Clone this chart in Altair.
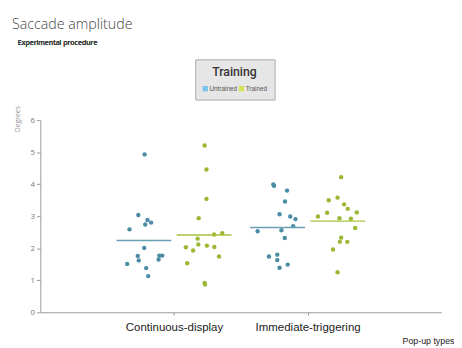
import altair as alt
import pandas as pd

categories = ["Continuous-display", "Immediate-triggering"]
groups = ["Untrained", "Trained"]

# degrees per participant
cd_untrained = [4.93, 3.04, 2.88, 2.80, 2.74, 2.59, 2.01, 1.76, 1.62, 1.77, 1.77, 1.65, 1.51, 1.38, 1.13]
cd_trained = [5.21, 4.46, 3.54, 2.94, 2.47, 2.43, 2.30, 2.12, 2.08, 2.04, 2.03, 1.93, 1.74, 1.53, 0.92, 0.87]
it_untrained = [3.99, 3.95, 3.80, 3.46, 3.06, 2.99, 2.91, 2.69, 2.56, 2.53, 2.32, 1.74, 1.80, 1.63, 1.49, 1.39]
it_trained = [4.22, 3.58, 3.50, 3.37, 3.23, 3.11, 3.12, 2.99, 2.94, 2.92, 2.63, 2.33, 2.20, 2.20, 1.96, 1.25]

# horizontal jitter (fraction of a category step)
cd_untrained_jit = [0.005, -0.042, 0.027, 0.054, 0.010, -0.108, 0.002, -0.046, -0.039, 0.115, 0.137, 0.110, -0.125, 0.017, 0.032]
cd_trained_jit = [0.004, 0.018, 0.018, -0.040, 0.136, 0.075, -0.048, -0.043, 0.021, 0.077, -0.136, -0.082, 0.112, -0.126, 0.004, 0.007]
it_untrained_jit = [-0.032, -0.026, 0.071, 0.056, 0.015, 0.095, 0.134, 0.117, 0.029, -0.149, 0.054, -0.064, -0.002, -0.002, 0.076, 0.015]
it_trained_jit = [0.026, -0.001, -0.067, 0.048, 0.075, -0.079, 0.143, -0.148, 0.013, 0.099, 0.131, 0.026, 0.016, 0.072, -0.035, -0.001]

y_ticks = [0, 1, 2, 3, 4, 5, 6]

series = [
    (0, 0, cd_untrained, cd_untrained_jit),
    (0, 1, cd_trained, cd_trained_jit),
    (1, 0, it_untrained, it_untrained_jit),
    (1, 1, it_trained, it_trained_jit),
]

group_shift = [-0.225, 0.225]
half_len = 0.205

rows = []
mean_rows = []
for ci, gi, vals, jit in series:
    center = ci + 1 + group_shift[gi]
    for v, j in zip(vals, jit):
        rows.append({"category": categories[ci], "group": groups[gi], "pos": center + j, "degrees": v})
    mean_rows.append({
        "category": categories[ci], "group": groups[gi],
        "x1": center - half_len, "x2": center + half_len,
        "mean": sum(vals) / len(vals),
    })

pts = pd.DataFrame(rows)
means = pd.DataFrame(mean_rows)

label_expr = f"datum.value == 1 ? '{categories[0]}' : '{categories[1]}'"

x_axis = alt.Axis(
    values=[1, 2], labelExpr=label_expr, grid=False,
    labelFont="Liberation Sans", labelFontSize=11.7, labelColor="#222",
    tickSize=3, tickColor="#999", domainColor="#999", labelPadding=7,
    title="Pop-up types", titleFont="Liberation Sans", titleFontSize=9,
    titleFontWeight="normal", titleColor="#222",
    titleX=369, titleY=32, titleAlign="left", titleBaseline="alphabetic",
)
y_axis = alt.Axis(
    values=y_ticks, grid=False, labelOverlap=False,
    labelFont="Open Sans", labelFontSize=8, labelColor="#777",
    tickSize=4, tickColor="#999", domainColor="#999", labelPadding=2,
    title="Degrees", titleFont="Open Sans", titleFontSize=7,
    titleFontWeight="normal", titleColor="#999", titleAngle=270,
    titleAlign="center", titleBaseline="middle", titleX=-23, titleY=-1.5,
)

xs = alt.Scale(domain=[0, 3], nice=False, zero=False)
ys = alt.Scale(domain=[0, 6], nice=False)

dark = alt.Scale(domain=groups, range=["#4a8ca4", "#9ab833"])
line_c = alt.Scale(domain=groups, range=["#6aa0b6", "#a8c23e"])
legend_c = alt.Scale(domain=groups, range=["#4fb3ee", "#c6e41a"])

points = alt.Chart(pts).mark_circle(size=20, opacity=1).encode(
    x=alt.X("pos:Q", scale=xs, axis=x_axis),
    y=alt.Y("degrees:Q", scale=ys, axis=y_axis),
    color=alt.Color("group:N", scale=dark, legend=None),
)

rules = alt.Chart(means).mark_rule(strokeWidth=1.5).encode(
    x=alt.X("x1:Q", scale=xs, axis=x_axis),
    x2="x2:Q",
    y=alt.Y("mean:Q", scale=ys, axis=y_axis),
    color=alt.Color("group:N", scale=line_c, legend=None),
)

legend_layer = alt.Chart(means).mark_square(clip=True).encode(
    x=alt.value(-100),
    y=alt.value(-100),
    color=alt.Color(
        "group:N", scale=legend_c,
        legend=alt.Legend(
            title="Training", orient="none", legendX=158, legendY=-62,
            direction="horizontal", fillColor="#e6e6e6", strokeColor="#aaa",
            padding=7, titleFont="Roboto", titleFontSize=12.5,
            titleFontWeight=500, titleColor="#333", titleAnchor="middle",
            titlePadding=7, labelFont="Liberation Sans", labelFontSize=6.5,
            labelColor="#555", symbolType="square", symbolSize=30,
            symbolStrokeWidth=0, labelOffset=1, columnPadding=1,
        ),
    ),
)

subtitle = alt.Chart(means).mark_text(
    text="Experimental procedure", align="left", baseline="alphabetic",
    font="Open Sans", fontSize=7.2, color="#444",
).encode(x=alt.value(-23), y=alt.value(-77))

chart = alt.layer(points, rules, legend_layer, subtitle).resolve_scale(
    color="independent"
).properties(
    width=409, height=196,
    title=alt.Title(
        "Saccade amplitude", anchor="start", frame="group", dx=-29, dy=8,
        font="Open Sans", fontSize=14.5, fontWeight=300, color="#444",
        baseline="alphabetic", offset=4,
    ),
    autosize=alt.AutoSizeParams(type="none"),
    padding={"left": 33, "top": 111, "right": 13, "bottom": 32},
).configure_view(stroke=None).configure_axisY(labelOverlap=False, tickCount=7)

chart.save("out.html", embed_options={"renderer": "svg", "actions": False})
